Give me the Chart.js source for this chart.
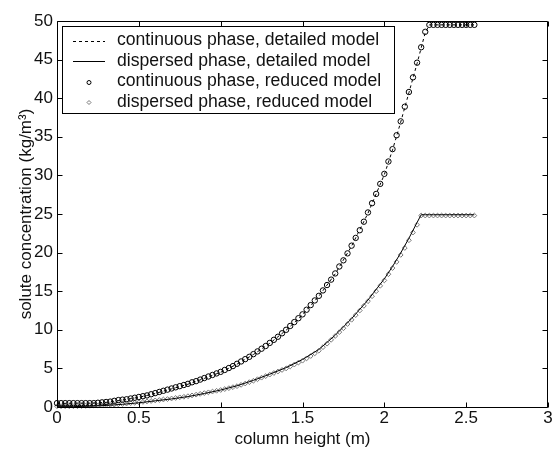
<!DOCTYPE html>
<html><head><meta charset="utf-8">
<script src="https://cdn.jsdelivr.net/npm/chart.js@4"></script>
<style>html,body{margin:0;padding:0;background:#fff}canvas{display:block}</style>
</head><body>
<canvas id="c" width="553" height="451"></canvas>
<script>
const legendLabels = [
  'continuous phase, detailed model',
  'dispersed phase, detailed model',
  'continuous phase, reduced model',
  'dispersed phase, reduced model'
];
const xTitle = 'column height (m)';
const yTitle = 'solute concentration (kg/m³)';
const xTickValues = [0, 0.5, 1, 1.5, 2, 2.5, 3];
const yTickValues = [0, 5, 10, 15, 20, 25, 30, 35, 40, 45, 50];

// detailed model (lines)
const detailedX = [0,0.1,0.2,0.3,0.4,0.5,0.6,0.7,0.8,0.9,1,1.1,1.2,1.3,1.4,1.5,1.6,1.7,1.8,1.9,2,2.05,2.1,2.15,2.2,2.225,2.25,2.275,2.3,2.4,2.5,2.55];
const contDetailed = [0.45,0.5,0.5,0.6,0.9,1.25,1.75,2.35,2.95,3.7,4.5,5.55,6.8,8.25,9.95,11.95,14.35,17.25,20.85,25.1,30.1,33.3,36.9,40.7,44.5,46.5,48.5,49.5,49.5,49.5,49.5,49.5];
const dispDetailed = [0.05,0.05,0.1,0.2,0.35,0.55,0.8,1.05,1.35,1.75,2.2,2.75,3.45,4.25,5.1,6.15,7.45,9.3,11.45,13.85,16.6,18.2,19.95,21.85,23.9,24.9,24.9,24.9,24.9,24.9,24.9,24.9];

// reduced model (markers)
const reducedX = [0,0.025,0.05,0.075,0.1,0.125,0.15,0.175,0.2,0.225,0.25,0.275,0.3,0.325,0.35,0.375,0.4,0.425,0.45,0.475,0.5,0.525,0.55,0.575,0.6,0.625,0.65,0.675,0.7,0.725,0.75,0.775,0.8,0.825,0.85,0.875,0.9,0.925,0.95,0.975,1,1.025,1.05,1.075,1.1,1.125,1.15,1.175,1.2,1.225,1.25,1.275,1.3,1.325,1.35,1.375,1.4,1.425,1.45,1.475,1.5,1.525,1.55,1.575,1.6,1.625,1.65,1.675,1.7,1.725,1.75,1.775,1.8,1.825,1.85,1.875,1.9,1.925,1.95,1.975,2,2.025,2.05,2.075,2.1,2.125,2.15,2.175,2.2,2.225,2.25,2.275,2.3,2.325,2.35,2.375,2.4,2.425,2.45,2.475,2.5,2.525,2.55];
const contReduced = [
  0.5,0.5,0.5,0.5,0.5,0.5,0.5,0.5,0.5,0.5,
  0.55,0.6,0.65,0.7,0.8,0.9,0.95,1.0,1.1,1.2,
  1.3,1.4,1.5,1.65,1.8,1.95,2.1,2.25,2.4,2.55,
  2.7,2.85,3.0,3.2,3.35,3.55,3.75,3.95,4.15,4.35,
  4.55,4.8,5.05,5.3,5.6,5.9,6.2,6.5,6.85,7.2,
  7.55,7.9,8.3,8.7,9.1,9.55,10.0,10.5,11.0,11.5,
  12.0,12.6,13.2,13.8,14.4,15.1,15.8,16.5,17.3,18.2,
  19.0,19.9,20.9,21.9,22.9,24.0,25.2,26.4,27.6,28.9,
  30.2,31.8,33.4,35.2,37.0,38.9,40.8,42.7,44.6,46.6,
  48.6,49.5,49.5,49.5,49.5,49.5,49.5,49.5,49.5,49.5,49.5,49.5,49.5
];
const dispReduced = [
  0.1,0.1,0.1,0.1,0.1,0.1,0.12,0.14,0.16,0.18,
  0.2,0.22,0.25,0.28,0.31,0.35,0.4,0.45,0.5,0.55,
  0.6,0.66,0.72,0.78,0.85,0.91,0.97,1.03,1.1,1.17,
  1.25,1.32,1.4,1.5,1.6,1.7,1.8,1.9,2.0,2.1,
  2.2,2.32,2.44,2.57,2.7,2.87,3.04,3.22,3.4,3.6,
  3.8,4.0,4.2,4.4,4.6,4.8,5.0,5.25,5.5,5.75,
  6.0,6.3,6.6,6.95,7.3,7.75,8.2,8.7,9.2,9.7,
  10.2,10.75,11.3,11.9,12.5,13.1,13.7,14.35,15.0,15.7,
  16.4,17.2,18.0,18.8,19.7,20.6,21.6,22.6,23.6,24.8,
  24.8,24.8,24.8,24.8,24.8,24.8,24.8,24.8,24.8,24.8,24.8,24.8,24.8
];

const FONT = '"Liberation Sans", Arial, sans-serif';
Chart.defaults.font.family = FONT;
Chart.defaults.font.size = 17;
Chart.defaults.color = '#111';

const pts = (xs, ys) => xs.map((x, i) => ({x: x, y: ys[i]}));
const fmt = v => String(Number(v));

const frame = {
  id: 'frame',
  afterDraw(chart) {
    const ctx = chart.ctx;
    const a = chart.chartArea;
    const xs = chart.scales.x, ys = chart.scales.y;
    const L = a.left + 0.5, R = a.right - 0.5, T = a.top + 0.5, B = a.bottom + 0.5;
    ctx.save();
    ctx.strokeStyle = '#000';
    ctx.lineWidth = 1;
    ctx.setLineDash([]);
    ctx.beginPath();
    ctx.rect(L, T, R - L, B - T);
    const tl = 5;
    xTickValues.forEach(v => {
      const p = Math.round(xs.getPixelForValue(v)) + 0.5;
      ctx.moveTo(p, B); ctx.lineTo(p, B - tl);
      ctx.moveTo(p, T); ctx.lineTo(p, T + tl);
    });
    yTickValues.forEach(v => {
      const p = Math.round(ys.getPixelForValue(v)) + 0.5;
      ctx.moveTo(L, p); ctx.lineTo(L + tl, p);
      ctx.moveTo(R, p); ctx.lineTo(R - tl, p);
    });
    ctx.stroke();

    // legend box
    const bx = 62.5, by = 26.5, bw = 332, bh = 87;
    ctx.fillStyle = '#fff';
    ctx.fillRect(bx, by, bw, bh);
    ctx.strokeRect(bx, by, bw, bh);
    const rows = [40.5, 61, 81.5, 102];
    const x0 = 73, x1 = 105, xm = 89, tx = 117;
    ctx.font = '17.6px ' + FONT;
    ctx.textBaseline = 'middle';
    ctx.textAlign = 'left';
    chart.data.datasets.forEach((ds, i) => {
      const y = Math.round(rows[i]) + 0.5;
      ctx.strokeStyle = ds.borderColor;
      ctx.lineWidth = 1;
      if (ds.showLine) {
        ctx.setLineDash(ds.borderDash || []);
        ctx.beginPath(); ctx.moveTo(x0, y); ctx.lineTo(x1, y); ctx.stroke();
        ctx.setLineDash([]);
      } else {
        ctx.fillStyle = 'rgba(0,0,0,0)';
        Chart.helpers.drawPoint(ctx, {pointStyle: ds.pointStyle, radius: 2, borderWidth: 1, rotation: 0}, xm, y);
      }
      ctx.fillStyle = '#111';
      ctx.fillText(ds.label, tx, rows[i]);
    });
    ctx.restore();
  }
};

new Chart(document.getElementById('c').getContext('2d'), {
  type: 'scatter',
  data: {
    datasets: [
      {label: legendLabels[0], data: pts(detailedX, contDetailed), showLine: true, borderColor: '#000', borderWidth: 1, borderDash: [3, 3], pointRadius: 0, fill: false, tension: 0, clip: false},
      {label: legendLabels[1], data: pts(detailedX, dispDetailed), showLine: true, borderColor: '#000', borderWidth: 1, pointRadius: 0, fill: false, tension: 0, clip: false},
      {label: legendLabels[2], data: pts(reducedX, contReduced), showLine: false, pointStyle: 'circle', pointRadius: 2.7, borderColor: '#000', backgroundColor: 'rgba(0,0,0,0)', borderWidth: 1, clip: false},
      {label: legendLabels[3], data: pts(reducedX, dispReduced), showLine: false, pointStyle: 'rectRot', pointRadius: 2.4, borderColor: '#777', backgroundColor: 'rgba(0,0,0,0)', borderWidth: 1, clip: false}
    ]
  },
  options: {
    responsive: false,
    animation: false,
    devicePixelRatio: 1,
    layout: {padding: {top: 21, right: 4, left: 0, bottom: 0}},
    plugins: {legend: {display: false}, tooltip: {enabled: false}},
    scales: {
      x: {
        type: 'linear', min: 0, max: 3,
        ticks: {stepSize: 0.5, padding: 1, maxRotation: 0, autoSkip: false, color: '#111', callback: fmt},
        grid: {display: false, drawTicks: false},
        border: {display: false},
        title: {display: true, text: xTitle, color: '#111', padding: {top: 0, bottom: 1}},
        afterFit(s) { s.height = 44; s.paddingLeft = 0; s.paddingRight = 0; }
      },
      y: {
        type: 'linear', min: 0, max: 50,
        ticks: {stepSize: 5, padding: 4, color: '#111', callback: fmt},
        grid: {display: false, drawTicks: false},
        border: {display: false},
        title: {display: true, text: yTitle, color: '#111', padding: {top: 16, bottom: 0}},
        afterFit(s) { s.width = 57; s.paddingTop = 0; s.paddingBottom = 0; }
      }
    }
  },
  plugins: [frame]
});
</script>
</body></html>
